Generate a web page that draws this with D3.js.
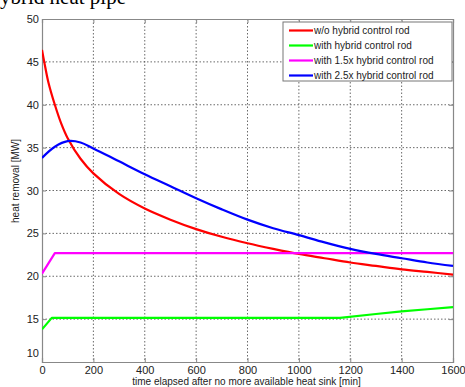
<!DOCTYPE html>
<html><head><meta charset="utf-8">
<script src="https://cdn.jsdelivr.net/npm/d3@7"></script>
<style>body{margin:0;background:#fff;}svg{display:block;}</style>
</head><body>
<svg id="c" width="465" height="387"></svg>
<script>
const xTicks = [0,200,400,600,800,1000,1200,1400,1600];
const yTicks = [10,15,20,25,30,35,40,45,50];
const seriesNames = ["w/o hybrid control rod","with hybrid control rod","with 1.5x hybrid control rod","with 2.5x hybrid control rod"];
const seriesColors = ["#ff0000","#00ff00","#ff00ff","#0000ff"];

const redT = [0,10,25,50,75,100,150,200,300,400,500,600,700,800,900,1000,1100,1200,1300,1400,1500,1600];
const redV = [46.4,44.8,42.6,40.0,37.8,36.1,33.7,32.0,29.6,27.9,26.6,25.5,24.6,23.85,23.2,22.6,22.1,21.6,21.2,20.8,20.5,20.2];
const greenT = [0,38,1160,1300,1400,1500,1600];
const greenV = [13.8,15.15,15.15,15.6,15.9,16.15,16.4];
const magentaT = [0,50,1600];
const magentaV = [20.3,22.7,22.7];
const blueT = [0,50,100,150,200,300,400,500,600,700,800,900,1000,1100,1200,1300,1400,1500,1600];
const blueV = [33.8,35.1,35.75,35.6,34.9,33.4,31.9,30.5,29.1,27.8,26.6,25.6,24.8,23.95,23.2,22.6,22.1,21.6,21.2];

const svg = d3.select("#c");
const L=42, R=453, T=19, B=362;
const x = d3.scaleLinear().domain([0,1600]).range([L,R]);
const y = d3.scaleLinear().domain([10,50]).range([B,T]);

// title fragment (cropped at the top, as in the source image)
svg.append("text").attr("x",0).attr("y",4).attr("font-family","Liberation Serif, Times New Roman, serif")
  .attr("font-size",21).attr("fill","#000").text("ybrid heat pipe");

// grid
const g = svg.append("g");
g.selectAll(".gx").data(xTicks.slice(1,-1)).enter().append("line")
  .attr("x1",d=>x(d)).attr("x2",d=>x(d)).attr("y1",T).attr("y2",B)
  .attr("stroke","#444").attr("stroke-width",0.8).attr("stroke-dasharray","1.5,2");
g.selectAll(".gy").data(yTicks.slice(1,-1)).enter().append("line")
  .attr("y1",d=>y(d)).attr("y2",d=>y(d)).attr("x1",L).attr("x2",R)
  .attr("stroke","#444").attr("stroke-width",0.8).attr("stroke-dasharray","1.5,2");

// axes
const fmt = d3.format("d");
const axB = svg.append("g").attr("transform",`translate(0,${B})`).call(d3.axisBottom(x).tickValues(xTicks).tickFormat(fmt).tickSize(-4).tickPadding(4));
const axT = svg.append("g").attr("transform",`translate(0,${T})`).call(d3.axisTop(x).tickValues(xTicks).tickSize(-4).tickFormat(""));
const axL = svg.append("g").attr("transform",`translate(${L},0)`).call(d3.axisLeft(y).tickValues(yTicks).tickFormat(fmt).tickSize(-4).tickPadding(3));
const axR = svg.append("g").attr("transform",`translate(${R},0)`).call(d3.axisRight(y).tickValues(yTicks).tickSize(-4).tickFormat(""));
[axB,axT,axL,axR].forEach(a=>{
  a.select(".domain").attr("stroke","#888").attr("stroke-width",1.2);
  a.selectAll(".tick line").attr("stroke","#888");
  a.selectAll("text").attr("font-family","Liberation Sans, Arial, sans-serif").attr("font-size",11).attr("fill","#222");
});
axL.selectAll(".tick").filter(d=>d===10).select("text").attr("dy","-0.5em");

// axis labels
svg.append("text").attr("x",(L+R)/2-1).attr("y",385).attr("text-anchor","middle")
  .attr("font-family","Liberation Sans, Arial, sans-serif").attr("font-size",10).attr("fill","#222")
  .text("time elapsed after no more available heat sink [min]");
svg.append("text").attr("transform","translate(19,181) rotate(-90)").attr("text-anchor","middle")
  .attr("font-family","Liberation Sans, Arial, sans-serif").attr("font-size",10).attr("fill","#222")
  .text("heat removal [MW]");

// lines
const series = [
  {t:redT,v:redV,c:seriesColors[0],curve:d3.curveCatmullRom.alpha(0.5)},
  {t:greenT,v:greenV,c:seriesColors[1],curve:d3.curveLinear},
  {t:magentaT,v:magentaV,c:seriesColors[2],curve:d3.curveLinear},
  {t:blueT,v:blueV,c:seriesColors[3],curve:d3.curveCatmullRom.alpha(0.5)}
];
svg.append("clipPath").attr("id","pc").append("rect").attr("x",L).attr("y",T).attr("width",R-L).attr("height",B-T);
const lg = svg.append("g").attr("clip-path","url(#pc)");
series.forEach(s=>{
  const pts = s.t.map((t,i)=>[t,s.v[i]]);
  lg.append("path").datum(pts)
    .attr("d",d3.line().x(d=>x(d[0])).y(d=>y(d[1])).curve(s.curve))
    .attr("fill","none").attr("stroke",s.c).attr("stroke-width",2.2).attr("stroke-linejoin","round");
});

// legend
const leg = svg.append("g");
leg.append("rect").attr("x",283).attr("y",22).attr("width",169).attr("height",59)
  .attr("fill","#fff").attr("stroke","#777").attr("stroke-width",1);
seriesNames.forEach((n,i)=>{
  const yy = 30.5 + i*15;
  leg.append("line").attr("x1",289).attr("x2",313).attr("y1",yy).attr("y2",yy)
    .attr("stroke",seriesColors[i]).attr("stroke-width",2.2);
  leg.append("text").attr("x",314).attr("y",yy+3.5)
    .attr("font-family","Liberation Sans, Arial, sans-serif").attr("font-size",10).attr("fill","#222").text(n);
});
</script>
</body></html>
